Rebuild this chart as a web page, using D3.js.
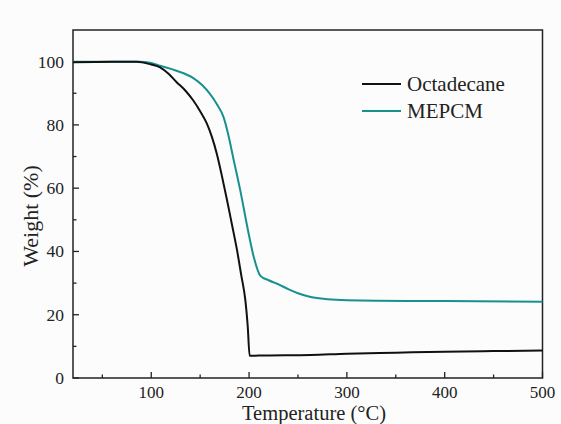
<!DOCTYPE html>
<html><head><meta charset="utf-8">
<script src="https://cdn.jsdelivr.net/npm/d3@7"></script>
<style>body{margin:0;background:#fcfcfc;} svg{display:block;}</style>
</head><body>
<script>
const octT = [20, 60, 85, 100, 109, 118, 126, 135, 143, 150, 157, 162, 167, 172, 177.5, 182.5, 187.7, 192, 196.2, 198.6, 200.6, 210, 263, 300, 350, 400, 450, 500];
const octW = [99.8, 100, 100, 99.1, 98.2, 96.1, 93.5, 90.8, 87.7, 84.3, 80.3, 76.2, 70.9, 64.2, 56.2, 48.5, 40.4, 32.5, 24.6, 16.5, 7.0, 7.1, 7.3, 7.7, 8.0, 8.3, 8.5, 8.7];
const mepT = [20, 60, 88, 100, 109, 125, 143, 152, 160, 167, 174, 179, 184, 191, 199.6, 205, 211.6, 220, 228.7, 240, 250, 263, 280, 300, 400, 500];
const mepW = [100, 100, 100, 99.6, 98.7, 97.2, 94.8, 92.6, 89.8, 86.6, 82.4, 76.6, 69.3, 59.3, 45.6, 38, 32.3, 30.9, 29.8, 28.1, 26.8, 25.6, 24.9, 24.6, 24.3, 24.1];
const seriesNames = ["Octadecane", "MEPCM"];
const seriesColors = ["#111111", "#17918f"];
const xTicks = [100, 200, 300, 400, 500];
const xMinor = [50, 150, 250, 350, 450];
const yTicks = [0, 20, 40, 60, 80, 100];
const yMinor = [10, 30, 50, 70, 90];

const W = 561, H = 424;
const svg = d3.select("body").append("svg").attr("width", W).attr("height", H);
const L = 73, R = 542.5, T = 30, B = 378;
const x = d3.scaleLinear().domain([20, 500]).range([L, R]);
const y = d3.scaleLinear().domain([0, 110]).range([B, T]);
const font = "'Liberation Serif', 'Times New Roman', serif";

// frame
svg.append("rect").attr("x", L).attr("y", T).attr("width", R - L).attr("height", B - T)
  .attr("fill", "none").attr("stroke", "#222").attr("stroke-width", 1.5);

// x ticks
const gx = svg.append("g");
xTicks.forEach(t => {
  gx.append("line").attr("x1", x(t)).attr("x2", x(t)).attr("y1", B).attr("y2", B - 6).attr("stroke", "#222").attr("stroke-width", 1.3);
  gx.append("text").attr("x", x(t)).attr("y", 397.5).attr("text-anchor", "middle")
    .attr("font-family", font).attr("font-size", 17).attr("fill", "#222").text(t);
});
xMinor.forEach(t => {
  gx.append("line").attr("x1", x(t)).attr("x2", x(t)).attr("y1", B).attr("y2", B - 3.5).attr("stroke", "#222").attr("stroke-width", 1.3);
});
// y ticks
const gy = svg.append("g");
yTicks.forEach(t => {
  gy.append("line").attr("x1", L).attr("x2", L + 6).attr("y1", y(t)).attr("y2", y(t)).attr("stroke", "#222").attr("stroke-width", 1.3);
  gy.append("text").attr("x", 64).attr("y", y(t) + 6).attr("text-anchor", "end")
    .attr("font-family", font).attr("font-size", 17.5).attr("fill", "#222").text(t);
});
yMinor.forEach(t => {
  gy.append("line").attr("x1", L).attr("x2", L + 3.5).attr("y1", y(t)).attr("y2", y(t)).attr("stroke", "#222").attr("stroke-width", 1.3);
});

// axis titles
svg.append("text").attr("x", 314).attr("y", 419.5).attr("text-anchor", "middle")
  .attr("font-family", font).attr("font-size", 20.5).attr("fill", "#222").text("Temperature (°C)");
svg.append("text").attr("transform", "translate(38," + 216 + ") rotate(-90)").attr("text-anchor", "middle")
  .attr("font-family", font).attr("font-size", 22).attr("fill", "#222").text("Weight (%)");

// lines
const line = d3.line().x(d => x(d[0])).y(d => y(d[1])).curve(d3.curveMonotoneX);
const data = [octT.map((t, i) => [t, octW[i]]), mepT.map((t, i) => [t, mepW[i]])];
svg.append("path").datum(data[1]).attr("d", line).attr("fill", "none").attr("stroke", seriesColors[1]).attr("stroke-width", 2);
svg.append("path").datum(data[0]).attr("d", line).attr("fill", "none").attr("stroke", seriesColors[0]).attr("stroke-width", 2);

// legend
seriesNames.forEach((n, i) => {
  const ly = 84 + i * 27;
  svg.append("line").attr("x1", 362).attr("x2", 401).attr("y1", ly).attr("y2", ly)
    .attr("stroke", seriesColors[i]).attr("stroke-width", 2);
  svg.append("text").attr("x", 407).attr("y", ly + 6.5).attr("font-family", font)
    .attr("font-size", 21).attr("fill", "#222").text(n);
});
</script>
</body></html>
